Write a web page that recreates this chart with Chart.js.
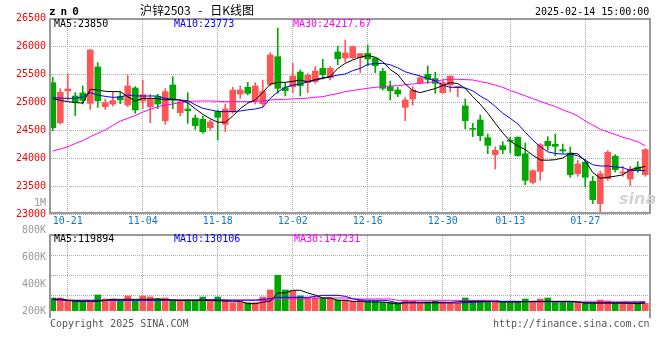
<!DOCTYPE html>
<html>
<head>
<meta charset="utf-8">
<script src="https://cdn.jsdelivr.net/npm/chart.js@4.4.1/dist/chart.umd.min.js"></script>
<style>
html,body{margin:0;padding:0;background:#fff;}
#wrap{position:relative;width:660px;height:360px;overflow:hidden;background:#fff;font-family:"DejaVu Sans Mono","Liberation Mono",monospace;}
#wrap canvas{position:absolute;left:0;}
.t{position:absolute;font-size:10px;line-height:10px;white-space:nowrap;}
</style>
</head>
<body>
<div id="wrap">
  <canvas id="main" width="660" height="232" style="top:0;width:660px;height:232px"></canvas>
  <canvas id="vol" width="660" height="170" style="top:190px;width:660px;height:170px"></canvas>
  <div class="t" style="left:49px;top:6px;font-size:11px;line-height:11px;font-weight:bold;letter-spacing:5px;">zn0</div>
  <div class="t" style="left:140px;top:4px;font-size:12px;line-height:12px;font-family:'Noto Sans CJK SC',sans-serif;word-spacing:5px;">沪锌2503 - 日K线图</div>
  <div class="t" style="left:535px;top:7px;color:#000;">2025-02-14 15:00:00</div>
  <div class="t" style="left:54px;top:19px;color:#000;">MA5:23850</div>
  <div class="t" style="left:174px;top:19px;color:#0000ff;">MA10:23773</div>
  <div class="t" style="left:293px;top:19px;color:#ff00ff;">MA30:24217.67</div>
  <div class="t" style="left:54px;top:234px;color:#000;">MA5:119894</div>
  <div class="t" style="left:174px;top:234px;color:#0000ff;">MA10:130106</div>
  <div class="t" style="left:294px;top:234px;color:#ff00ff;">MA30:147231</div>
  <div class="t" style="left:50px;top:319px;color:#555;">Copyright 2025 SINA.COM</div>
  <div class="t" style="left:493px;top:319px;color:#555;">http://finance.sina.com.cn</div>
  <div class="t" style="left:619px;top:191px;font-family:'DejaVu Sans',sans-serif;font-size:16px;line-height:16px;font-weight:bold;font-style:italic;color:#d4d4d4;">sina</div>
</div>
<script>
// ---------- data ----------
const CATEGORIES = ['10-17','10-18','10-21','10-22','10-23','10-24','10-25','10-28','10-29','10-30',
 '10-31','11-01','11-04','11-05','11-06','11-07','11-08','11-11','11-12','11-13',
 '11-14','11-15','11-18','11-19','11-20','11-21','11-22','11-25','11-26','11-27',
 '11-28','11-29','12-02','12-03','12-04','12-05','12-06','12-09','12-10','12-11',
 '12-12','12-13','12-16','12-17','12-18','12-19','12-20','12-23','12-24','12-25',
 '12-26','12-27','12-30','12-31','01-02','01-03','01-06','01-07','01-08','01-09',
 '01-10','01-13','01-14','01-15','01-16','01-17','01-20','01-21','01-22','01-23',
 '01-24','01-27','02-05','02-06','02-07','02-10','02-11','02-12','02-13','02-14'];
const X_TICKS = ['10-21','11-04','11-18','12-02','12-16','12-30','01-13','01-27'];

const PRICE_MIN = 23000, PRICE_MAX = 26500, PRICE_STEP = 500;

const OPEN = [25345,24631,25197,25107,25161,24976,25625,24917,24964,25095,
 24947,25250,25018,24917,25095,24667,25304,24810,24875,24714,
 24691,24542,24828,24601,24821,25143,25262,25018,24970,25315,
 25809,25256,25274,25536,25345,25363,25601,25434,25893,25786,
 25792,25792,25869,25786,25547,25274,25214,24905,25054,25345,
 25494,25417,25167,25304,25262,24929,24524,24679,24363,24060,
 24220,24304,24369,24077,23565,23762,24298,24244,24149,24089,
 23720,23923,23583,23185,23631,24030,23732,23625,23839,23702];
const HIGH = [25440,25238,25500,25167,25286,25940,25702,25048,25179,25179,
 25476,25274,25393,25137,25137,25238,25453,25024,25167,24768,
 24750,24679,24857,24964,25262,25286,25351,25345,25393,25881,
 26321,25345,25690,25571,25512,25631,25762,25631,26000,26107,
 26000,25869,26018,25786,25601,25375,25262,25077,25274,25452,
 25643,25530,25393,25464,25286,25054,24619,24768,24429,24202,
 24292,24369,24380,24268,23792,24256,24381,24429,24250,24196,
 23958,23982,23673,23762,24131,24060,23851,23851,23935,24167];
const LOW = [24488,24607,25036,24756,24964,24869,24905,24869,24929,24970,
 24917,24798,24881,24631,24881,24601,24881,24750,24619,24512,
 24441,24500,24322,24470,24798,25065,25125,24964,24923,25286,
 25155,25107,25167,25107,25167,25333,25411,25393,25667,25714,
 25774,25524,25643,25524,25214,25036,25095,24667,24946,25321,
 25333,25155,25155,25179,25095,24518,24381,24310,24077,23804,
 24077,24089,24030,23524,23536,23601,24137,24042,24089,23655,
 23673,23482,23185,23018,23601,23750,23673,23506,23744,23673];
const CLOSE = [24542,25173,25232,25000,25030,25928,25024,24988,25024,25036,
 25286,24857,25131,25066,24964,25185,25036,25006,24845,24578,
 24470,24643,24726,24875,25214,25214,25155,25286,25185,25839,
 25244,25202,25464,25292,25476,25554,25488,25601,25774,25875,
 25988,25863,25768,25649,25244,25202,25143,25036,25214,25434,
 25405,25333,25345,25464,25274,24667,24512,24399,24226,24137,
 24149,24298,24042,23601,23774,24238,24220,24208,24125,23702,
 23893,23655,23256,23720,24101,23792,23750,23804,23792,24149];

const MA5 = [25060,25030,25006,24990,24980,25226,25214,25190,25185,25185,
 25095,25018,25065,25065,25060,25040,25040,25036,24985,24880,
 24780,24700,24640,24637,24750,24880,24980,25036,25170,25320,
 25350,25351,25370,25390,25363,25400,25430,25452,25600,25690,
 25750,25800,25830,25800,25720,25580,25490,25320,25205,25167,
 25205,25240,25292,25345,25330,25244,25095,24960,24800,24620,
 24450,24300,24215,24150,24050,23964,23960,23970,24000,24083,
 24075,23950,23740,23640,23655,23675,23700,23790,23820,23850];
const MA10 = [25077,25070,25065,25065,25090,25167,25125,25100,25083,25090,
 25125,25110,25107,25107,25107,25065,25050,25036,25024,24950,
 24887,24860,24830,24827,24830,24840,24860,24875,24905,25065,
 25180,25262,25300,25321,25360,25390,25420,25452,25480,25500,
 25560,25600,25673,25685,25690,25665,25610,25540,25500,25464,
 25420,25380,25300,25262,25262,25250,25200,25107,25030,24920,
 24800,24708,24610,24460,24320,24202,24110,24080,24071,24071,
 24040,23960,23880,23857,23857,23840,23830,23774,23780,23774];
const MA30 = [24125,24160,24200,24260,24310,24381,24440,24500,24580,24660,
 24708,24760,24820,24870,24917,24945,24964,24990,25012,25015,
 25018,25018,25012,25006,25006,25006,25006,25010,25020,25036,
 25045,25048,25055,25060,25070,25085,25095,25125,25150,25185,
 25205,25226,25245,25262,25275,25286,25290,25310,25321,25335,
 25345,25370,25395,25405,25405,25400,25393,25365,25340,25300,
 25262,25205,25160,25110,25060,25010,24964,24920,24860,24810,
 24750,24660,24590,24512,24465,24420,24370,24333,24290,24218];

const VOLUME = [196000,196000,161000,161000,146000,146000,242000,181000,181000,161000,
 227000,161000,227000,211000,186000,196000,166000,166000,166000,166000,
 211000,166000,211000,166000,125000,136000,125000,125000,211000,317000,
 539000,317000,307000,227000,196000,196000,196000,196000,166000,166000,
 146000,171000,146000,146000,131000,131000,121000,161000,146000,136000,
 136000,146000,136000,116000,116000,196000,156000,156000,131000,146000,
 131000,131000,136000,181000,146000,181000,196000,136000,136000,131000,
 121000,121000,121000,166000,151000,125000,125000,116000,116000,116000];
const VMA5 = [171000,171000,160000,146000,146000,146000,146000,160000,176000,176000,
 176000,176000,176000,176000,181000,170000,165000,161000,161000,161000,
 161000,158000,155000,150000,146000,146000,111000,111000,131000,150000,
 272000,272000,312000,312000,272000,240000,196000,196000,161000,161000,
 146000,146000,136000,136000,136000,120000,106000,131000,131000,131000,
 131000,131000,131000,131000,140000,146000,146000,146000,146000,140000,
 136000,136000,136000,140000,146000,146000,146000,146000,146000,146000,
 136000,121000,121000,121000,121000,121000,116000,116000,111000,120000];
const VMA10 = [181000,181000,165000,161000,161000,161000,161000,161000,161000,161000,
 161000,161000,161000,161000,161000,165000,165000,165000,165000,165000,
 171000,171000,171000,165000,165000,165000,165000,165000,175000,186000,
 206000,206000,206000,206000,206000,220000,236000,236000,236000,221000,
 186000,165000,161000,161000,161000,150000,121000,121000,121000,121000,
 121000,121000,121000,121000,121000,125000,130000,135000,140000,146000,
 146000,146000,146000,141000,141000,141000,141000,141000,141000,141000,
 136000,121000,121000,121000,121000,121000,131000,131000,131000,130000];
const VMA30 = [161000,161000,161000,161000,161000,161000,161000,161000,161000,161000,
 161000,161000,161000,161000,161000,161000,161000,161000,161000,161000,
 161000,161000,161000,161000,161000,161000,161000,161000,161000,161000,
 186000,186000,186000,186000,196000,196000,196000,196000,196000,196000,
 181000,181000,181000,181000,181000,181000,161000,161000,161000,161000,
 161000,161000,161000,161000,161000,161000,161000,161000,161000,161000,
 138000,138000,138000,138000,138000,138000,138000,138000,138000,138000,
 138000,138000,138000,138000,138000,138000,138000,138000,140000,142000];

const VOL_MAX = 1160000;
const VOL_GRID = [236000, 538000, 833000];
const VOL_LABELS = ['1M','800K','600K','400K','200K'];
const VOL_LABEL_VALUES = [1000000, 800000, 600000, 400000, 200000];
const VOL_LABEL_MIN = 200000, VOL_LABEL_MAX = 770000;

// ---------- styles ----------
const UP = '#ff5555', DOWN = '#00a800';
const GRID = '#aaaaaa', FRAME = '#999999';
const MONO = {family:"'DejaVu Sans Mono','Liberation Mono',monospace", size:10};
const candleColors = CLOSE.map((c, i) => c >= OPEN[i] ? UP : DOWN);

const filterXTicks = (s) => { s.ticks = s.ticks.filter(t => X_TICKS.includes(CATEGORIES[t.value])); };

const lineDs = (label, data, color, axis) => ({
  type:'line', label, data, borderColor:color, borderWidth:1, pointRadius:0,
  tension:0, order:0, yAxisID:axis
});

const mainFrame = {
  id:'mainFrame',
  afterDraw(chart){
    const {ctx, chartArea:a} = chart;
    ctx.save();
    ctx.strokeStyle = FRAME; ctx.lineWidth = 2;
    ctx.beginPath();
    ctx.moveTo(a.left + 1, a.top + 1); ctx.lineTo(a.right + 1, a.top + 1);
    ctx.moveTo(a.left + 1, a.top); ctx.lineTo(a.left + 1, a.bottom);
    ctx.moveTo(a.right + 1, a.top); ctx.lineTo(a.right + 1, a.bottom);
    ctx.moveTo(a.left, a.bottom - 1); ctx.lineTo(a.right + 2, a.bottom - 1);
    ctx.stroke();
    ctx.restore();
  }
};
const volFrame = {
  id:'volFrame',
  afterDraw(chart){
    const {ctx, chartArea:a} = chart;
    ctx.save();
    ctx.strokeStyle = FRAME; ctx.lineWidth = 2;
    ctx.beginPath();
    ctx.moveTo(a.left, a.top + 1); ctx.lineTo(a.right + 2, a.top + 1);
    ctx.moveTo(a.left + 1, a.top); ctx.lineTo(a.left + 1, a.bottom + 7);
    ctx.moveTo(a.right + 1, a.top); ctx.lineTo(a.right + 1, a.bottom + 7);
    ctx.stroke();
    ctx.restore();
  }
};

// ---------- main candlestick chart ----------
new Chart(document.getElementById('main'), {
  type:'bar',
  data:{
    labels:CATEGORIES,
    datasets:[
      lineDs('MA5', MA5, '#000000', 'y'),
      lineDs('MA10', MA10, '#0000ff', 'y'),
      lineDs('MA30', MA30, '#ff00ff', 'y'),
      {label:'body', data:OPEN.map((o, i) => [o, CLOSE[i]]), backgroundColor:candleColors,
       barThickness:6, minBarLength:1, grouped:false, borderWidth:0, order:1, yAxisID:'y'},
      {label:'wick', data:LOW.map((l, i) => [l, HIGH[i]]), backgroundColor:candleColors,
       barThickness:1, grouped:false, borderWidth:0, order:2, yAxisID:'y'}
    ]
  },
  options:{
    responsive:false, animation:false, devicePixelRatio:1, events:[],
    layout:{padding:{left:0, right:11, top:18, bottom:0}},
    plugins:{legend:{display:false}, tooltip:{enabled:false}},
    scales:{
      x:{
        offset:true,
        grid:{offset:false, color:GRID, drawTicks:false},
        border:{display:false, dash:[1,1]},
        ticks:{autoSkip:false, maxRotation:0, padding:1, color:'#1478c8', font:MONO,
               callback:(v) => CATEGORIES[v]},
        afterBuildTicks:filterXTicks,
        afterFit:(s) => { s.height = 18; }
      },
      y:{
        type:'linear', min:PRICE_MIN, max:PRICE_MAX,
        grid:{color:GRID, drawTicks:false},
        border:{display:false, dash:[1,1]},
        ticks:{stepSize:PRICE_STEP, color:'#ff0000', padding:3, font:MONO,
               callback:(v) => String(v)},
        afterFit:(s) => { s.width = 49; }
      }
    }
  },
  plugins:[mainFrame]
});

// ---------- volume chart ----------
new Chart(document.getElementById('vol'), {
  type:'bar',
  data:{
    labels:CATEGORIES,
    datasets:[
      lineDs('VMA5', VMA5, '#000000', 'yVol'),
      lineDs('VMA10', VMA10, '#0000ff', 'yVol'),
      lineDs('VMA30', VMA30, '#ff00ff', 'yVol'),
      {label:'volume', data:VOLUME, backgroundColor:candleColors, barThickness:6,
       borderWidth:0, order:1, yAxisID:'yVol'}
    ]
  },
  options:{
    responsive:false, animation:false, devicePixelRatio:1, events:[],
    layout:{padding:{left:0, right:11, top:44, bottom:49}},
    plugins:{legend:{display:false}, tooltip:{enabled:false}},
    scales:{
      x:{
        offset:true,
        grid:{offset:false, color:GRID, drawTicks:false},
        border:{display:false, dash:[1,1]},
        ticks:{display:false},
        afterBuildTicks:filterXTicks,
        afterFit:(s) => { s.height = 0; }
      },
      yLab:{
        type:'linear', position:'left', min:VOL_LABEL_MIN, max:VOL_LABEL_MAX,
        grid:{display:false, drawTicks:false}, border:{display:false},
        ticks:{autoSkip:false, color:'#999999', padding:3, font:MONO,
               callback:(v) => VOL_LABELS[VOL_LABEL_VALUES.indexOf(v)]},
        afterBuildTicks:(s) => { s.ticks = VOL_LABEL_VALUES.map(v => ({value:v})); },
        afterFit:(s) => { s.width = 49; }
      },
      yVol:{
        type:'linear', position:'right', min:0, max:VOL_MAX,
        grid:{color:GRID, drawTicks:false}, border:{display:false, dash:[1,1]},
        ticks:{display:false},
        afterBuildTicks:(s) => { s.ticks = VOL_GRID.map(v => ({value:v})); },
        afterFit:(s) => { s.width = 0; }
      }
    }
  },
  plugins:[volFrame]
});
</script>
</body>
</html>
